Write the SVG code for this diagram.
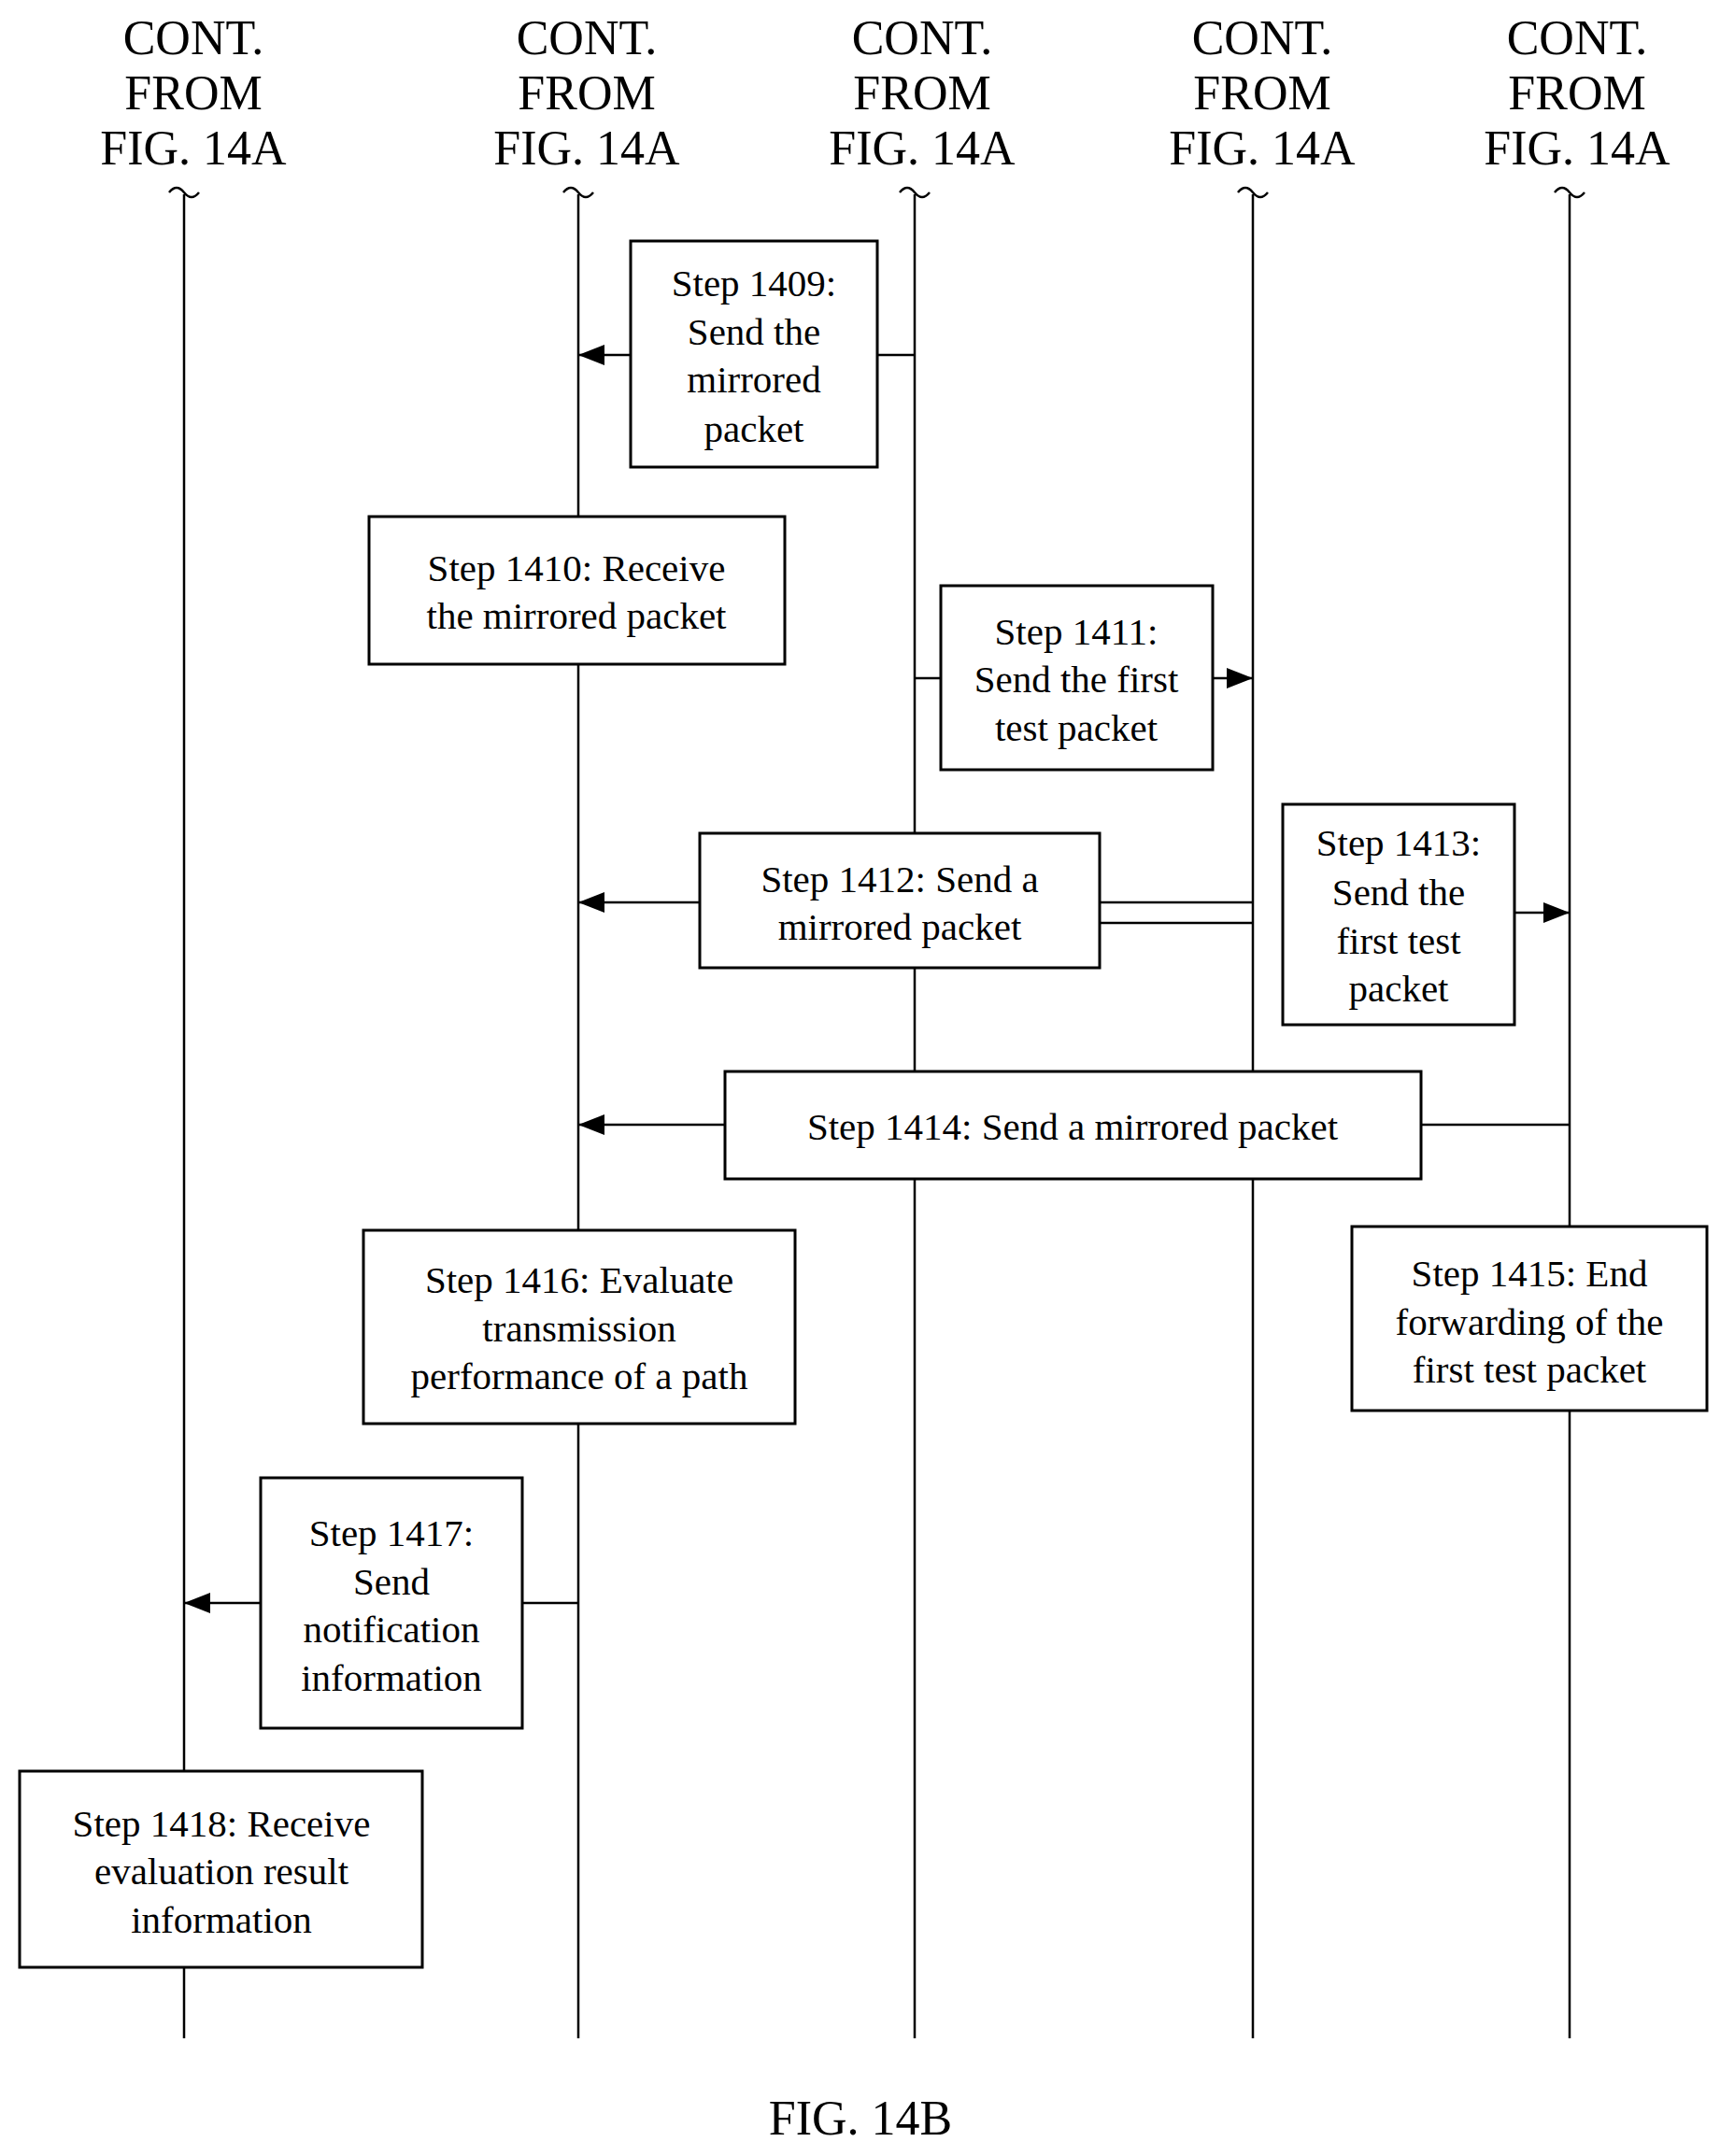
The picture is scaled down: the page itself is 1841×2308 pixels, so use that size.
<svg xmlns="http://www.w3.org/2000/svg" width="1841" height="2308" viewBox="0 0 1841 2308">
<style>
text{font-family:"Liberation Serif","Times New Roman",serif;fill:#000;text-anchor:middle;dominant-baseline:central}
.h{font-size:52px}.t{font-size:41px}
.life{stroke:#000;stroke-width:2.5;fill:none}
.box{fill:#fff;stroke:#000;stroke-width:3}
.c{stroke:#000;stroke-width:2.5;fill:none}
.a{marker-end:url(#ah)}
</style>
<defs><marker id="ah" markerWidth="10" markerHeight="10" refX="9" refY="5" orient="auto" markerUnits="userSpaceOnUse" viewBox="0 0 10 10"><path d="M0,0L10,5L0,10z" fill="#000" transform="scale(1)"/></marker>
<marker id="ah2" markerWidth="28" markerHeight="22" refX="28" refY="11" orient="auto" markerUnits="userSpaceOnUse"><path d="M0,0L28,11L0,22z" fill="#000"/></marker></defs>
<g id="headers">
<text class="h" x="207" y="40">CONT.</text><text class="h" x="207" y="99">FROM</text><text class="h" x="207" y="158">FIG. 14A</text>
<text class="h" x="628" y="40">CONT.</text><text class="h" x="628" y="99">FROM</text><text class="h" x="628" y="158">FIG. 14A</text>
<text class="h" x="987" y="40">CONT.</text><text class="h" x="987" y="99">FROM</text><text class="h" x="987" y="158">FIG. 14A</text>
<text class="h" x="1351" y="40">CONT.</text><text class="h" x="1351" y="99">FROM</text><text class="h" x="1351" y="158">FIG. 14A</text>
<text class="h" x="1688" y="40">CONT.</text><text class="h" x="1688" y="99">FROM</text><text class="h" x="1688" y="158">FIG. 14A</text>
</g>
<g id="lifelines">
<path class="life" d="M181,206q8,-10 16,0t16,0M197,208V2182"/>
<path class="life" d="M603,206q8,-10 16,0t16,0M619,208V2182"/>
<path class="life" d="M963,206q8,-10 16,0t16,0M979,208V2182"/>
<path class="life" d="M1325,206q8,-10 16,0t16,0M1341,208V2182"/>
<path class="life" d="M1664,206q8,-10 16,0t16,0M1680,208V2182"/>
</g>
<g id="connectors">
<path class="c" d="M979,380H939"/><path class="c" d="M675,380H619" marker-end="url(#ah2)"/>
<path class="c" d="M979,726H1007"/><path class="c" d="M1298,726H1341" marker-end="url(#ah2)"/>
<path class="c" d="M749,966H619" marker-end="url(#ah2)"/>
<path class="c" d="M1177,966H1341M1177,988H1341"/>
<path class="c" d="M1621,977H1680" marker-end="url(#ah2)"/>
<path class="c" d="M1680,1204H1521"/><path class="c" d="M776,1204H619" marker-end="url(#ah2)"/>
<path class="c" d="M619,1716H559"/><path class="c" d="M279,1716H197" marker-end="url(#ah2)"/>
</g>
<g id="n1409"><rect class="box" x="675" y="258" width="264" height="242"/><text class="t" x="807" y="303">Step 1409:</text><text class="t" x="807" y="355">Send the</text><text class="t" x="807" y="406">mirrored</text><text class="t" x="807" y="459">packet</text></g>
<g id="n1410"><rect class="box" x="395" y="553" width="445" height="158"/><text class="t" x="617" y="608">Step 1410: Receive</text><text class="t" x="617" y="659">the mirrored packet</text></g>
<g id="n1411"><rect class="box" x="1007" y="627" width="291" height="197"/><text class="t" x="1152" y="676">Step 1411:</text><text class="t" x="1152" y="727">Send the first</text><text class="t" x="1152" y="779">test packet</text></g>
<g id="n1412"><rect class="box" x="749" y="892" width="428" height="144"/><text class="t" x="963" y="941">Step 1412: Send a</text><text class="t" x="963" y="992">mirrored packet</text></g>
<g id="n1413"><rect class="box" x="1373" y="861" width="248" height="236"/><text class="t" x="1497" y="902">Step 1413:</text><text class="t" x="1497" y="955">Send the</text><text class="t" x="1497" y="1007">first test</text><text class="t" x="1497" y="1058">packet</text></g>
<g id="n1414"><rect class="box" x="776" y="1147" width="745" height="115"/><text class="t" x="1148" y="1206">Step 1414: Send a mirrored packet</text></g>
<g id="n1415"><rect class="box" x="1447" y="1313" width="380" height="197"/><text class="t" x="1637" y="1363">Step 1415: End</text><text class="t" x="1637" y="1415">forwarding of the</text><text class="t" x="1637" y="1466">first test packet</text></g>
<g id="n1416"><rect class="box" x="389" y="1317" width="462" height="207"/><text class="t" x="620" y="1370">Step 1416: Evaluate</text><text class="t" x="620" y="1422">transmission</text><text class="t" x="620" y="1473">performance of a path</text></g>
<g id="n1417"><rect class="box" x="279" y="1582" width="280" height="268"/><text class="t" x="419" y="1641">Step 1417:</text><text class="t" x="419" y="1693">Send</text><text class="t" x="419" y="1744">notification</text><text class="t" x="419" y="1796">information</text></g>
<g id="n1418"><rect class="box" x="21" y="1896" width="431" height="210"/><text class="t" x="237" y="1952">Step 1418: Receive</text><text class="t" x="237" y="2003">evaluation result</text><text class="t" x="237" y="2055">information</text></g>
<text class="h" x="921" y="2267">FIG. 14B</text>
</svg>
